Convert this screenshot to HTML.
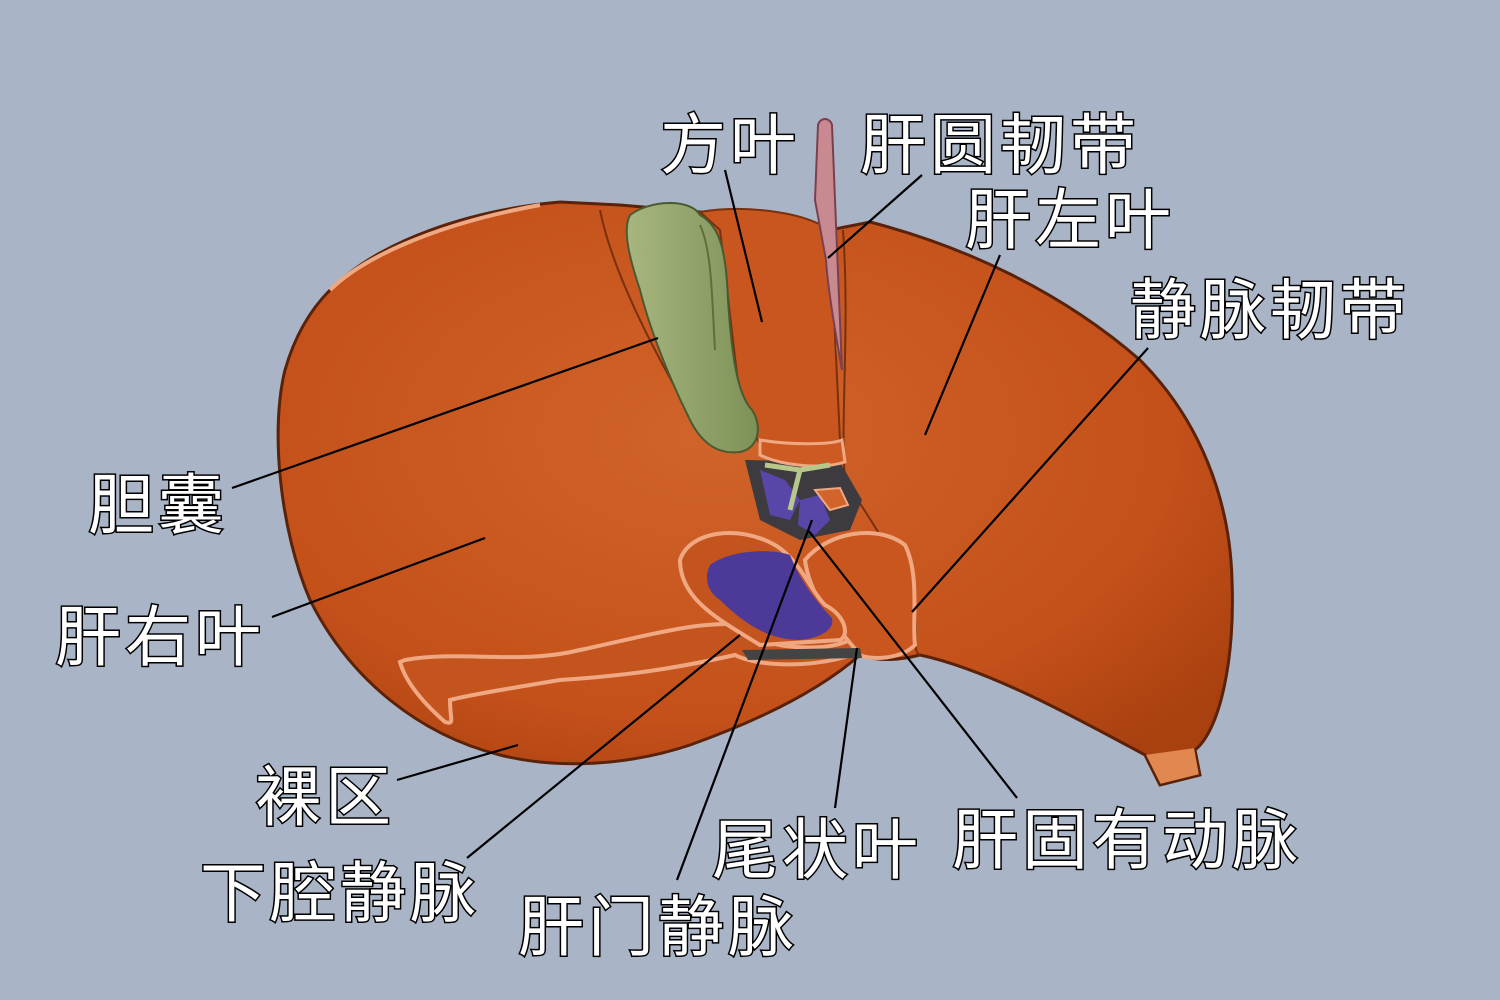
<!DOCTYPE html>
<html><head><meta charset="utf-8"><style>
html,body{margin:0;padding:0;background:#a9b5c6;}
svg{display:block}
.t{font-family:"Liberation Sans","Noto Sans CJK SC",sans-serif;font-size:66px;fill:#fff;stroke:#000;stroke-width:3px;paint-order:stroke;letter-spacing:4px}
</style></head><body>
<svg width="1500" height="1000" viewBox="0 0 1500 1000" xmlns="http://www.w3.org/2000/svg">
<defs>
<radialGradient id="g1" cx="0.45" cy="0.4" r="0.7">
<stop offset="0" stop-color="#d0642a"/><stop offset="0.7" stop-color="#c4501a"/><stop offset="1" stop-color="#a8400f"/>
</radialGradient>
<linearGradient id="gb" x1="0" y1="0" x2="1" y2="0">
<stop offset="0" stop-color="#a7b67f"/><stop offset="1" stop-color="#7d9157"/>
</linearGradient>
</defs>
<rect width="1500" height="1000" fill="#a9b5c6"/>
<!-- main liver -->
<path d="M330,290 C380,240 470,210 560,202 L620,205 L700,212 L760,215 L830,230 L870,222 C960,245 1060,290 1140,360 C1200,420 1230,500 1232,580 C1235,660 1220,730 1195,750 L1200,775 L1160,785 L1145,755 C1080,720 990,670 920,655 C900,660 880,662 860,655 C820,690 760,720 690,745 C630,765 560,770 500,755 C420,735 350,680 310,600 C280,530 270,430 285,370 C295,335 310,310 330,290 Z" fill="url(#g1)" stroke="#5a2208" stroke-width="3"/>
<!-- left lobe division -->
<path d="M843,230 C850,330 840,420 845,480 C870,520 900,560 915,610 C918,640 912,650 920,655" fill="none" stroke="#7a300c" stroke-width="2"/>
<path d="M835,230 C840,330 830,430 842,470" fill="none" stroke="#f0a882" stroke-width="2"/>
<!-- quadrate lobe -->
<path d="M700,212 C740,205 800,210 830,230 L840,440 C820,455 790,450 760,445 L740,400 L720,230 Z" fill="#c8561e" stroke="#7a300c" stroke-width="2"/>
<!-- upper edges -->
<path d="M330,290 C360,260 430,225 540,205" fill="none" stroke="#f0a882" stroke-width="4"/>
<path d="M600,210 C610,260 640,330 700,430" fill="none" stroke="#7a300c" stroke-width="2"/>
<!-- bare area -->
<path d="M405,660 C460,650 520,665 580,650 C650,635 700,620 745,625 L760,640 C790,650 830,650 850,640 L860,652 C820,668 760,668 735,655 C690,665 640,675 560,680 C500,690 470,695 450,700 C450,720 455,725 445,722 C420,700 405,680 400,662 Z" fill="#c4541e" stroke="#f0a882" stroke-width="4"/>
<!-- caudate lobe -->
<path d="M805,560 C830,530 880,525 905,545 C920,575 912,620 915,645 C900,660 870,660 860,655 C840,630 810,600 805,560 Z" fill="#c9561f" stroke="#f0a882" stroke-width="4"/>
<!-- porta region -->
<path d="M745,460 L840,462 L862,500 L850,530 L800,540 L760,520 Z" fill="#3d3a40"/>
<path d="M760,440 C790,445 830,445 842,440 L845,462 C820,470 780,465 760,455 Z" fill="#cc5a22" stroke="#f0a882" stroke-width="3"/>
<!-- IVC region -->
<path d="M680,560 C690,530 740,525 775,545 C800,560 810,590 825,605 C845,615 850,635 840,640 L760,645 C720,620 680,600 680,560 Z" fill="#c4541e" stroke="#f0a882" stroke-width="4"/>
<path d="M710,565 C730,550 770,548 790,555 C800,580 815,600 832,618 C835,630 820,638 800,640 C770,640 745,625 720,600 C705,590 705,575 710,565 Z" fill="#4d3a98"/>
<path d="M760,470 L785,480 L800,500 L790,520 L770,515 Z" fill="#5a46a8"/>
<path d="M800,500 L820,495 L830,520 L815,535 L798,525 Z" fill="#5a46a8"/>
<path d="M815,490 L840,488 L848,505 L830,510 Z" fill="#d0642a" stroke="#f0a882" stroke-width="2"/>
<path d="M765,465 L800,470 L790,510 M800,470 L830,465" fill="none" stroke="#b6c88a" stroke-width="5"/>
<path d="M742,650 L860,648 L862,658 L748,660 Z" fill="#444"/>
<!-- ligament -->
<path d="M818,125 C820,117 830,117 832,125 L835,200 L842,370 C835,330 828,290 826,260 L815,200 Z" fill="#c88a90" stroke="#7a4050" stroke-width="2"/>
<!-- gallbladder -->
<path d="M630,215 C650,200 690,198 700,215 C718,225 726,245 728,300 C732,360 738,395 752,410 C762,425 760,448 740,452 C715,455 700,440 690,420 C670,380 650,330 640,290 C630,260 622,230 630,215 Z" fill="url(#gb)" stroke="#4a5a30" stroke-width="2"/>
<path d="M700,225 C712,250 712,300 715,350" fill="none" stroke="#5e6f3e" stroke-width="2"/>
<!-- right tip -->
<path d="M1145,755 L1160,785 L1200,775 L1195,748" fill="#e08850" stroke="#5a2208" stroke-width="2"/>
<!-- lines -->
<g stroke="#000" stroke-width="2.2" fill="none">
<line x1="725" y1="170" x2="762" y2="322"/>
<line x1="922" y1="175" x2="828" y2="258"/>
<line x1="1000" y1="255" x2="925" y2="435"/>
<line x1="1148" y1="348" x2="912" y2="612"/>
<line x1="232" y1="488" x2="658" y2="338"/>
<line x1="272" y1="617" x2="485" y2="538"/>
<line x1="397" y1="780" x2="518" y2="745"/>
<line x1="467" y1="858" x2="740" y2="635"/>
<line x1="835" y1="808" x2="857" y2="648"/>
<line x1="677" y1="880" x2="812" y2="520"/>
<line x1="1017" y1="798" x2="808" y2="530"/>
</g>
<!-- labels -->
<text class="t" x="660" y="168">方叶</text>
<text class="t" x="860" y="168">肝圆韧带</text>
<text class="t" x="965" y="243">肝左叶</text>
<text class="t" x="1130" y="333">静脉韧带</text>
<text class="t" x="88" y="528">胆囊</text>
<text class="t" x="55" y="660">肝右叶</text>
<text class="t" x="255" y="820">裸区</text>
<text class="t" x="200" y="916">下腔静脉</text>
<text class="t" x="712" y="873">尾状叶</text>
<text class="t" x="952" y="863">肝固有动脉</text>
<text class="t" x="518" y="950">肝门静脉</text>
</svg>
</body></html>
